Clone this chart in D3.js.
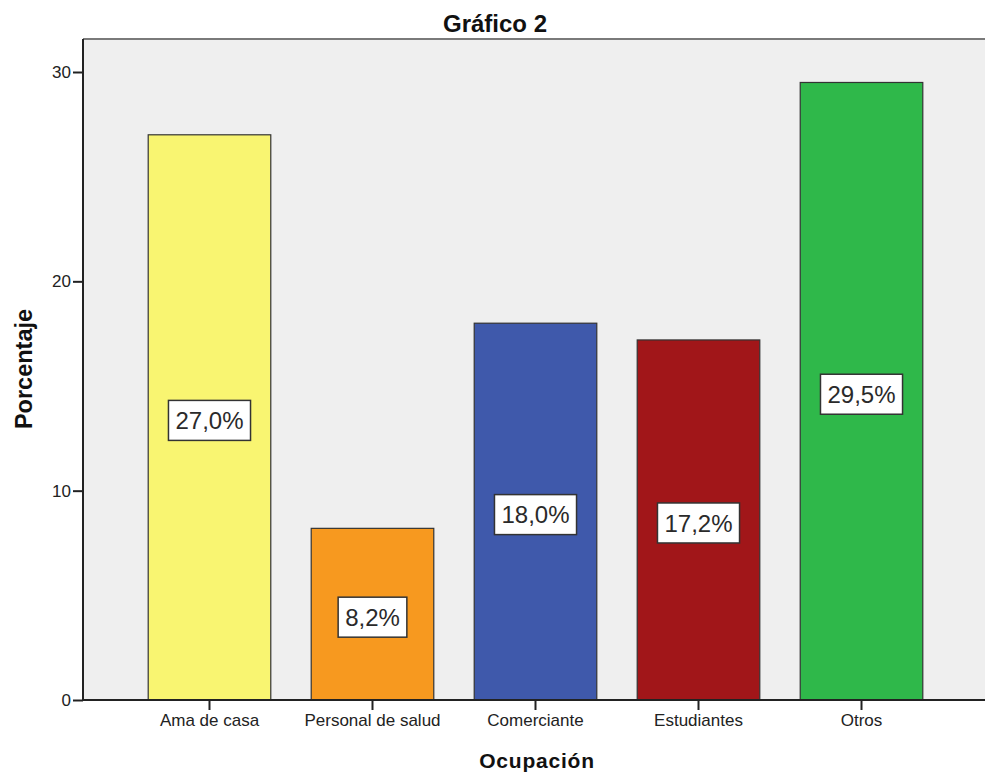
<!DOCTYPE html>
<html>
<head>
<meta charset="utf-8">
<script src="https://cdn.jsdelivr.net/npm/d3@7/dist/d3.min.js"></script>
<style>
  body { margin: 0; background: #fff; }
  svg { display: block; font-family: "Liberation Sans", Arial, sans-serif; }
</style>
</head>
<body>
<svg id="chart" width="985" height="776"></svg>
<script>
// Ocupación: porcentaje por categoría
const categories = ["Ama de casa", "Personal de salud", "Comerciante", "Estudiantes", "Otros"];
const values = [27.0, 8.2, 18.0, 17.2, 29.5];
const valueLabels = ["27,0%", "8,2%", "18,0%", "17,2%", "29,5%"];
const barColors = ["#f9f571", "#f7991f", "#3f59ab", "#a11619", "#2fb84a"];
const yTicks = [0, 10, 20, 30];

const svg = d3.select("#chart");
const plotLeft = 83, plotRight = 988, plotTop = 39, plotBottom = 700;

const x = d3.scaleBand().domain(categories).range([plotLeft, plotRight])
  .paddingInner(0.248).paddingOuter(0.4);
const y = d3.scaleLinear().domain([0, 30]).range([plotBottom, 72]);

// Plot background
svg.append("rect").attr("x", plotLeft).attr("y", plotTop)
  .attr("width", plotRight - plotLeft).attr("height", plotBottom - plotTop)
  .attr("fill", "#efefef");
// Top frame line
svg.append("line").attr("x1", plotLeft).attr("x2", plotRight)
  .attr("y1", plotTop).attr("y2", plotTop)
  .attr("stroke", "#7a7a7a").attr("stroke-width", 2);

// Bars
svg.append("g").selectAll("rect").data(values).join("rect")
  .attr("x", (d, i) => x(categories[i]))
  .attr("y", d => y(d))
  .attr("width", x.bandwidth())
  .attr("height", d => y(0) - y(d))
  .attr("fill", (d, i) => barColors[i])
  .attr("stroke", "#333")
  .attr("stroke-width", 1.2);

// Axes
const yAxis = svg.append("g").attr("transform", `translate(${plotLeft},0)`)
  .call(d3.axisLeft(y).tickValues(yTicks).tickSize(10).tickPadding(2));
const xAxis = svg.append("g").attr("transform", `translate(0,${plotBottom})`)
  .call(d3.axisBottom(x).tickSize(10).tickPadding(4).tickSizeOuter(0));
[yAxis, xAxis].forEach(g => {
  g.select(".domain").attr("stroke", "#222").attr("stroke-width", 2);
  g.selectAll(".tick line").attr("stroke", "#222").attr("stroke-width", 2);
  g.selectAll("text").attr("fill", "#222").attr("font-size", 17)
    .attr("font-family", "'Liberation Sans', Arial, sans-serif");
});
yAxis.select(".domain").attr("d", `M0,${plotTop}V${plotBottom}`);
xAxis.select(".domain").attr("d", `M${plotLeft},0H${plotRight}`);

// Value labels in white boxes
const labels = svg.append("g").selectAll("g").data(values).join("g")
  .attr("transform", (d, i) =>
    `translate(${x(categories[i]) + x.bandwidth() / 2},${y(d / 2) + 3})`);
labels.each(function (d, i) {
  const g = d3.select(this);
  const box = g.append("rect");
  const t = g.append("text").text(valueLabels[i])
    .attr("text-anchor", "middle").attr("dy", "0.36em")
    .attr("font-size", 24).attr("fill", "#2a2a2a");
  const w = t.node().getComputedTextLength() + 14;
  box.attr("x", -w / 2).attr("y", -20).attr("width", w).attr("height", 40)
    .attr("fill", "#fff").attr("stroke", "#333").attr("stroke-width", 1.5);
});

// Titles
svg.append("text").attr("x", 495).attr("y", 32)
  .attr("text-anchor", "middle").attr("font-weight", "bold")
  .attr("font-size", 24).attr("fill", "#111").text("Gráfico 2");
svg.append("text").attr("transform", "translate(32,369) rotate(-90)")
  .attr("text-anchor", "middle").attr("font-weight", "bold")
  .attr("font-size", 23.5).attr("fill", "#111").text("Porcentaje");
svg.append("text").attr("x", 537).attr("y", 768)
  .attr("text-anchor", "middle").attr("font-weight", "bold")
  .attr("font-size", 21).attr("letter-spacing", 0.8)
  .attr("fill", "#111").text("Ocupación");
</script>
</body>
</html>
